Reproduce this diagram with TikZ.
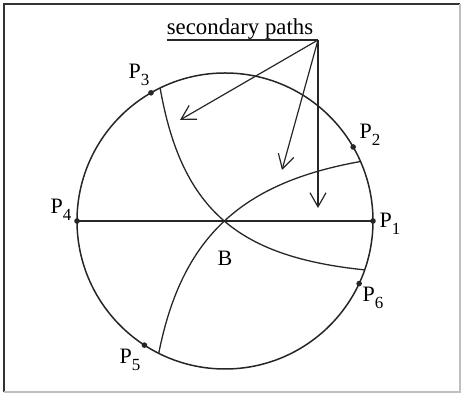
\documentclass[tikz,border=0pt]{standalone}
\usepackage{fontspec}
\setmainfont{Liberation Serif}
\usepackage{tikz}
\usetikzlibrary{arrows.meta,positioning}
\newcommand\plab[1]{P\raisebox{-.75ex}{\fontsize{8.5}{9}\selectfont #1}}

\begin{document}
\begin{tikzpicture}[x=.5pt,y=.5pt,
  font=\fontsize{11}{13}\selectfont,
  frame/.style={draw=black!80,line width=.9pt},
  rim/.style={draw=black!85,line width=.75pt},
  route/.style={draw=black!85,line width=.65pt},
  dot/.style={circle,fill=black!85,inner sep=0pt,minimum size=2.8pt},
  lab/.style={inner sep=1pt},
  secondary/.style={-{Straight Barb[length=7pt,width=8pt]},draw=black!85,line width=.6pt}]

\path[use as bounding box] (0,0) rectangle (462,395);
% frame
\draw[frame] (4,3)--(4,391)--(460,391);
\draw[black!25,line width=.6pt] (4,3)--(460,3)--(460,391);

% circle and the points on it
\coordinate (c) at (225,174);
\draw[rim] (c) circle (148);
\foreach \ang/\nm in {120/p3,30/p2,0/p1,180/p4,-25/p6,-123/p5}
  \path (c) ++(\ang:148) node[dot] (\nm) {};
\node[lab] (l3) at (139,320) {\plab{3}};
\node[lab] (l2) at (370,260) {\plab{2}};
\node[lab] (l1) at (390,171) {\plab{1}};
\node[lab] (l4) at (61,185) {\plab{4}};
\node[lab] (l6) at (373,97) {\plab{6}};
\node[lab] (l5) at (130,35) {\plab{5}};

% paths through B
\coordinate (b) at (224,174);
\node[lab] (blab) at (225,137) {B};
\path (c) ++(116:148) coordinate (a1) (c) ++(-19.3:148) coordinate (a2);
\path (c) ++(23.7:148) coordinate (d1) (c) ++(-116.6:148) coordinate (d2);
\draw[route] (p4.center)--(p1.center);
\draw[route] (a1) .. controls (182,182) and (241,138) .. (a2);
\draw[route] (d1) .. controls (243,212.5) and (182,159.5) .. (d2);

% secondary paths
\node[anchor=base,font=\fontsize{11.4}{13}\selectfont] (sp) at (240,360) {secondary paths};
\coordinate (ul) at (167,355);
\coordinate (hub) at (318,355);
\draw[route] (ul)--(hub);
\coordinate (t1) at (180,275);
\coordinate (t2) at (282,225);
\coordinate (t3) at (318,187);
\foreach \tt in {t1,t2,t3}
  \draw[secondary] (hub)--(\tt);

\end{tikzpicture}
\end{document}
